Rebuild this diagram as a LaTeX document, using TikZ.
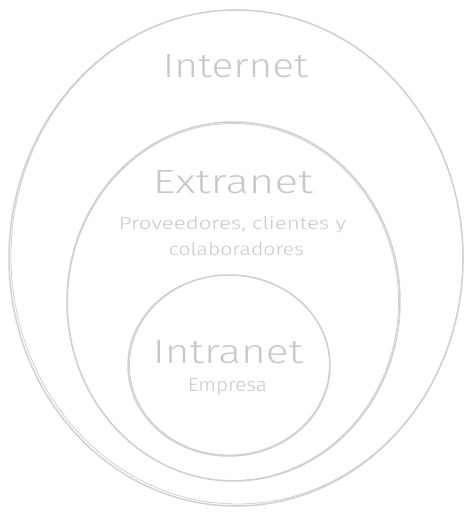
\documentclass[tikz,border=0pt]{standalone}
\usepackage{fontspec}
\setmainfont{Fira Sans Light}
\usetikzlibrary{shapes.geometric}
\definecolor{sk}{HTML}{D0D0D0}
\definecolor{tx}{HTML}{C8C8C8}
\tikzset{
  ring/.style={ellipse, draw=sk, line width=1.5pt, inner sep=0pt},
  ringb/.style={ellipse, draw=sk, line width=0.8pt, inner sep=0pt},
  title/.style={text=tx, inner sep=0pt, anchor=base},
  sub/.style={text=tx, inner sep=0pt, anchor=base}
}
\begin{document}
\begin{tikzpicture}[x=1pt,y=-1pt]
\useasboundingbox (0,0) rectangle (473,517);
% outer
\node[ring, minimum width=454pt, minimum height=496pt] (internet) at (236,258) {};
\node[ringb, minimum width=452pt, minimum height=494pt, rotate=0.8] (internetb) at (237,257) {};
% middle
\node[ring, minimum width=333pt, minimum height=359pt] (extranet) at (233.5,301.5) {};
\node[ringb, minimum width=331pt, minimum height=357pt, rotate=-1] (extranetb) at (233,302) {};
% inner
\node[ring, minimum width=202pt, minimum height=181pt] (intranet) at (229,365.5) {};
\node[ringb, minimum width=200pt, minimum height=180pt, rotate=1.2] (intranetb) at (229.5,365) {};
% texts
\node[title] (tinternet) at (235.5,77) {\resizebox{145pt}{23pt}{Internet}};
\node[title] (textranet) at (233,193) {\resizebox{160pt}{23pt}{Extranet}};
\node[sub] (sprov) at (232.5,229) {\resizebox{227pt}{13pt}{Proveedores, clientes y}};
\node[sub] (scol) at (236.5,255) {\resizebox{135pt}{13pt}{colaboradores}};
\node[title] (tintranet) at (228,363) {\resizebox{150pt}{23pt}{Intranet}};
\node[sub] (semp) at (227.5,391) {\resizebox{79pt}{13pt}{Empresa}};
\end{tikzpicture}
\end{document}
